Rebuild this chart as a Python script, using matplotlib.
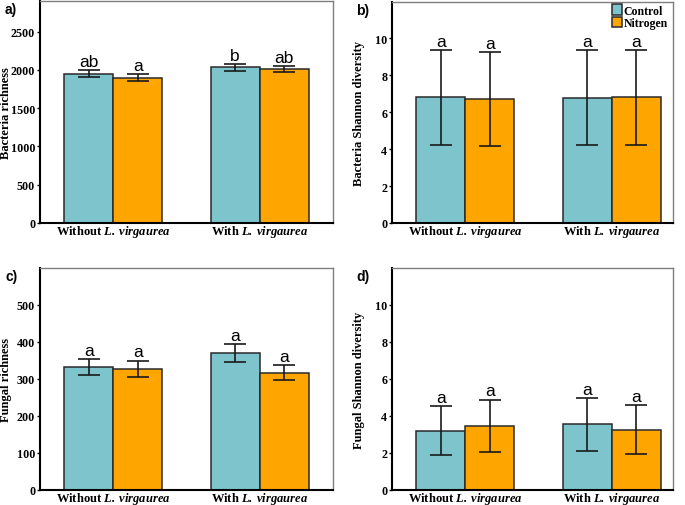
import numpy as np
import matplotlib
matplotlib.use('Agg')
import matplotlib.pyplot as plt

plt.rcParams['mathtext.fontset'] = 'custom'
plt.rcParams['mathtext.bfit'] = 'Liberation Serif:italic:bold'
plt.rcParams['mathtext.rm'] = 'Liberation Serif:bold'

groups = [r'Without $\mathbfit{L.\,virgaurea}$', r'With $\mathbfit{L.\,virgaurea}$']
treatments = ['Control', 'Nitrogen']
colors = ['#7DC4CC', '#FFA500']

# mean / sd per treatment, groups in order Without, With
bact_rich_ctrl = [1950, 2033]
bact_rich_ctrl_sd = [45, 45]
bact_rich_nitr = [1898, 2012]
bact_rich_nitr_sd = [43, 43]
bact_rich_let_ctrl = ['ab', 'b']
bact_rich_let_nitr = ['a', 'ab']

bact_shan_ctrl = [6.80, 6.78]
bact_shan_ctrl_sd = [2.57, 2.58]
bact_shan_nitr = [6.71, 6.80]
bact_shan_nitr_sd = [2.54, 2.57]

fung_rich_ctrl = [332, 371]
fung_rich_ctrl_sd = [22, 24]
fung_rich_nitr = [328, 317]
fung_rich_nitr_sd = [22, 21]

fung_shan_ctrl = [3.21, 3.55]
fung_shan_ctrl_sd = [1.31, 1.42]
fung_shan_nitr = [3.48, 3.26]
fung_shan_nitr_sd = [1.41, 1.33]

panels = [
    # tag, ylabel, ctrl, ctrl_sd, nitr, nitr_sd, letters ctrl, letters nitr, ymax, yticks, rect(px), xmax
    ('a)', 'Bacteria richness', bact_rich_ctrl, bact_rich_ctrl_sd, bact_rich_nitr, bact_rich_nitr_sd,
     bact_rich_let_ctrl, bact_rich_let_nitr, 2900, np.arange(0, 2501, 500), [40, 2, 333, 224], 2.5),
    ('b)', 'Bacteria Shannon diversity', bact_shan_ctrl, bact_shan_ctrl_sd, bact_shan_nitr, bact_shan_nitr_sd,
     ['a', 'a'], ['a', 'a'], 11.95, np.arange(0, 11, 2), [392, 3, 673, 224], 2.42),
    ('c)', 'Fungal richness', fung_rich_ctrl, fung_rich_ctrl_sd, fung_rich_nitr, fung_rich_nitr_sd,
     ['a', 'a'], ['a', 'a'], 600, np.arange(0, 501, 100), [40, 269, 333, 491], 2.5),
    ('d)', 'Fungal Shannon diversity', fung_shan_ctrl, fung_shan_ctrl_sd, fung_shan_nitr, fung_shan_nitr_sd,
     ['a', 'a'], ['a', 'a'], 12, np.arange(0, 11, 2), [392, 269, 673, 491], 2.42),
]

W, H = 685, 506
fig = plt.figure(figsize=(W / 100, H / 100), dpi=100)

x = np.array([1, 2])
bw = 0.335

for tag, ylab, c, csd, n, nsd, lc, ln, ymax, yt, rect, xmax in panels:
    l, t, r, b = rect
    left_col = l < 300
    ax = fig.add_axes([l / W, 1 - b / H, (r - l) / W, (b - t) / H])
    for off, vals, sds, col, lets, lab in [(-bw / 2, c, csd, colors[0], lc, treatments[0]),
                                           (bw / 2, n, nsd, colors[1], ln, treatments[1])]:
        ax.bar(x + off, vals, bw, color=col, edgecolor='#2a2a2a', linewidth=1.1, label=lab, zorder=2)
        ax.errorbar(x + off, vals, yerr=sds, fmt='none', ecolor='#1a1a1a', elinewidth=1.2,
                    capsize=8, capthick=1.2, zorder=3)
        for xi, v, s, let in zip(x + off, vals, sds, lets):
            ax.annotate(let, (xi, v + s), xytext=(0, 3), textcoords='offset points',
                        ha='center', va='baseline', fontsize=12.5, family='Liberation Sans')
    ax.set_xlim(0.5, xmax)
    ax.set_ylim(0, ymax)
    ax.set_yticks(yt)
    ax.set_yticklabels([str(v) for v in yt], fontsize=8.7, family='Liberation Serif', fontweight='bold')
    ax.set_xticks(x)
    ax.set_xticklabels(groups, fontsize=9, family='Liberation Serif', fontweight='bold')
    ax.tick_params(axis='x', length=0, pad=0)
    ax.tick_params(axis='y', length=2.5, width=1, pad=1, color='black')
    ax.set_ylabel(ylab, fontsize=9, family='Liberation Serif', fontweight='bold')
    ax.yaxis.set_label_coords(((12 if left_col else 365) - l) / (r - l), 0.5)
    for s in ['left', 'bottom']:
        ax.spines[s].set_color('black')
        ax.spines[s].set_linewidth(1.5)
    for s in ['top', 'right']:
        ax.spines[s].set_color('#7f7f7f')
        ax.spines[s].set_linewidth(1.0)
    fig.text((5 if left_col else 356) / W, 1 - (t + 1) / H, tag, fontsize=10, fontweight='bold',
             family='Liberation Sans', ha='left', va='top')
    if tag == 'b)':
        ax.legend(loc='upper right', bbox_to_anchor=(0.99, 1.0), frameon=False,
                  prop={'family': 'Liberation Serif', 'weight': 'bold', 'size': 8.5},
                  handlelength=0.85, handleheight=1.0, labelspacing=0.0, handletextpad=0.15,
                  borderpad=0.1, borderaxespad=0.1)

fig.savefig('out.png', dpi=100)
